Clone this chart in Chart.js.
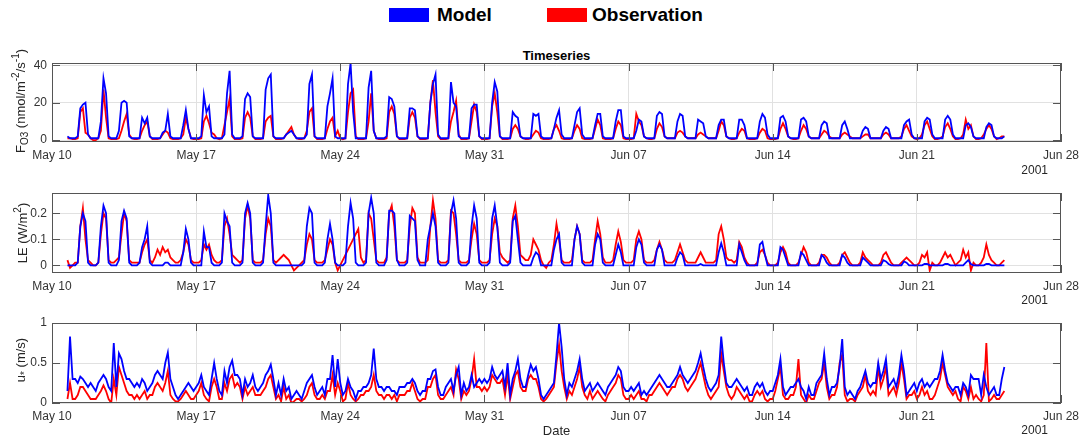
<!DOCTYPE html>
<html>
<head>
<meta charset="utf-8">
<title>Timeseries</title>
<script src="https://cdn.jsdelivr.net/npm/chart.js@4.4.1/dist/chart.umd.min.js"></script>
<style>
  body { margin: 0; background: #fff; }
  #fig { position: relative; width: 1085px; height: 440px; overflow: hidden;
         font-family: "Liberation Sans", Arial, sans-serif; color: #262626; }
  #fig canvas { position: absolute; left: 0; }
  .txt { position: absolute; white-space: nowrap; line-height: 1; }
  .ylab { position: absolute; white-space: nowrap; font-size: 13px; line-height: 1;
          transform: translate(-50%, -50%) rotate(-90deg); }
  .ylab sub, .ylab sup { font-size: 10px; line-height: 0; }
  .swatch { position: absolute; top: 8px; width: 40px; height: 14px; }
  .leg { position: absolute; top: 5px; font-size: 19px; font-weight: bold; color: #000; line-height: 1; }
</style>
</head>
<body>
<div id="fig">
  <div class="swatch" style="left:389px;background:#0000ff"></div>
  <div class="leg" style="left:437px">Model</div>
  <div class="swatch" style="left:547px;background:#ff0000"></div>
  <div class="leg" style="left:592px">Observation</div>

  <div class="txt" style="left:0;width:1113px;text-align:center;top:49px;font-size:13px;font-weight:bold;color:#000">Timeseries</div>

  <canvas id="fo3" width="1085" height="130" style="top:40px"></canvas>
  <canvas id="le" width="1085" height="131" style="top:170px"></canvas>
  <canvas id="ustar" width="1085" height="131" style="top:300px"></canvas>

  <div class="ylab" style="left:20px;top:101px">F<sub>O3</sub> (nmol/m<sup>-2</sup>/s<sup>-1</sup>)</div>
  <div class="ylab" style="left:22px;top:233px">LE (W/m<sup>2</sup>)</div>
  <div class="ylab" style="left:20px;top:360px">u<sub>*</sub> (m/s)</div>

  <div class="txt" style="right:37px;top:164px;font-size:12px">2001</div>
  <div class="txt" style="right:37px;top:294px;font-size:12px">2001</div>
  <div class="txt" style="right:37px;top:424px;font-size:12px">2001</div>
  <div class="txt" style="left:0;width:1113px;text-align:center;top:424px;font-size:13px">Date</div>
</div>

<script>
// x axis: days since May 10 2001, one tick per week
const xTickDays = [0, 7, 14, 21, 28, 35, 42, 49];
const xTickLabels = ['May 10', 'May 17', 'May 24', 'May 31', 'Jun 07', 'Jun 14', 'Jun 21', 'Jun 28'];
const stepsPerDay = 8; // 3-hourly values, each row is one day starting at 00:00

const fo3Ticks = [0, 20, 40];
const leTicks = [0, 0.1, 0.2];
const ustarTicks = [0, 0.5, 1];

// ozone flux, nmol/m2/s
const fo3Model = [
  [null,null,null,null,null,null,2,1],
  [1,1,2,17,19,20,3,1],
  [1,1,1,10,33,25,2,1],
  [1,1,5,20,21,20,2,1],
  [1,1,1,12,9,12,2,1],
  [1,1,1,4,5,14,2,1],
  [1,1,1,8,16,6,1,1],
  [1,1,2,24,15,18,2,1],
  [1,1,1,3,25,37,3,1],
  [1,1,2,22,25,23,2,1],
  [1,1,1,27,33,35,2,1],
  [1,1,1,3,4,5,3,1],
  [1,1,1,3,30,35,2,1],
  [1,1,1,18,25,33,2,1],
  [1,1,1,30,41,15,1,1],
  [1,1,1,28,37,5,1,1],
  [1,1,2,23,22,18,2,1],
  [1,1,1,17,17,16,2,1],
  [1,1,1,20,30,35,3,1],
  [1,1,1,31,20,18,2,1],
  [1,1,1,17,19,19,2,1],
  [1,1,1,20,31,26,2,1],
  [1,1,1,15,13,12,2,1],
  [1,1,1,14,13,14,2,1],
  [1,1,1,6,12,16,3,1],
  [1,1,1,8,15,17,3,1],
  [1,1,1,8,14,14,2,1],
  [1,1,1,10,16,16,2,1],
  [1,1,1,5,11,10,2,1],
  [1,1,1,13,15,14,2,1],
  [1,1,1,10,14,13,2,1],
  [1,1,1,11,10,9,2,1],
  [1,1,1,8,11,11,2,1],
  [1,1,1,11,11,8,1,1],
  [1,1,1,10,14,12,3,1],
  [1,1,1,12,13,10,2,1],
  [1,1,1,11,12,10,2,1],
  [1,1,1,8,10,9,1,1],
  [1,1,1,8,10,6,1,1],
  [1,1,1,5,7,6,1,1],
  [1,1,1,5,7,6,1,1],
  [1,1,1,8,10,11,3,1],
  [1,1,1,10,12,11,3,1],
  [1,1,1,11,13,11,3,1],
  [1,1,1,8,9,7,2,1],
  [1,1,1,7,9,8,2,1],
  [1,1,2,null,null,null,null,null]
];
const fo3Obs = [
  [null,null,null,null,null,null,1,1],
  [0.5,0.5,1,15,17,4,3,1],
  [0,0,1,5,27,12,1,0.5],
  [0.5,0.5,1,5,10,14,3,1],
  [0.5,0.5,1,5,8,10,2,0.5],
  [0.5,0.5,1,3,5,4,1,0.5],
  [0.5,0.5,1,3,12,6,1,0.5],
  [0.5,0.5,1,10,13,9,4,3],
  [1,0.5,1,8,15,22,2,0.5],
  [0.5,0.5,1,12,15,12,2,0.5],
  [0.5,0.5,1,10,12,13,2,0.5],
  [0.5,0.5,1,3,5,7,3,1],
  [0.5,0.5,1,5,15,17,2,0.5],
  [0.5,0.5,1,6,10,12,2,5],
  [1,0.5,1,15,25,27,2,0.5],
  [0.5,0.5,1,10,25,5,1,0.5],
  [0.5,0.5,1,15,18,14,2,0.5],
  [0.5,0.5,1,12,15,12,2,0.5],
  [0.5,0.5,1,20,32,15,2,0.5],
  [0.5,0.5,1,10,15,21,3,0.5],
  [0.5,0.5,1,10,19,15,2,0.5],
  [0.5,0.5,1,18,25,15,2,0.5],
  [0.5,0.5,1,6,8,6,2,1],
  [0.5,0.5,1,3,5,4,1,0.5],
  [0.5,0.5,1,6,8,5,1,0.5],
  [0.5,0.5,1,5,8,6,1,0.5],
  [0.5,0.5,1,6,11,8,1,0.5],
  [0.5,0.5,1,6,10,8,1,0.5],
  [0.5,0.5,1,14,10,8,2,1],
  [0.5,0.5,1,6,9,7,2,1],
  [1,1,1,4,5,4,2,1],
  [1,1,1,3,4,3,2,1],
  [1,1,1,5,10,8,2,1],
  [0.5,0.5,1,4,6,5,1,0.5],
  [0.5,0.5,1,4,6,5,1,0.5],
  [0.5,0.5,1,6,9,6,2,1],
  [0.5,0.5,1,5,8,6,2,1],
  [1,1,1,3,5,4,2,1],
  [1,1,1,3,4,3,2,1],
  [1,1,1,2,3,3,1,1],
  [1,1,1,3,4,3,1,1],
  [1,1,2,6,8,5,2,1],
  [0.5,1,3,8,10,6,2,0.5],
  [0.5,1,2,7,9,6,2,0.5],
  [0.5,1,3,11,6,8,2,0.5],
  [0.5,1,3,6,8,6,2,0.5],
  [1,2,2,null,null,null,null,null]
];

// latent heat flux, W/m2
const leModel = [
  [null,null,null,null,null,null,0,0],
  [0,0,0.01,0.15,0.2,0.17,0.01,0],
  [0,0,0.01,0.15,0.23,0.2,0.01,0],
  [0,0,0.02,0.17,0.21,0.18,0.01,0],
  [0,0,0.01,0.07,0.1,0.15,0.01,0],
  [0,0,0,0,0.01,0.01,0,0],
  [0,0,0,0.05,0.14,0.1,0.01,0],
  [0,0,0,0.13,0.07,0.07,0.01,0],
  [0,0,0.01,0.2,0.17,0.15,0.01,0],
  [0,0,0.01,0.2,0.24,0.2,0.01,0],
  [0,0,0.01,0.15,0.27,0.2,0.01,0],
  [0,0,0,0,0,0,0,0],
  [0,0,0.01,0.15,0.22,0.2,0.01,0],
  [0,0,0.01,0.1,0.16,0.1,0.01,0],
  [0,0,0.01,0.15,0.24,0.18,0.01,0],
  [0,0,0.01,0.2,0.26,0.2,0.01,0],
  [0,0,0.02,0.21,0.21,0.2,0.02,0],
  [0,0,0.01,0.19,0.18,0.17,0.02,0],
  [0,0,0.1,0.15,0.2,0.15,0.01,0],
  [0,0,0.01,0.2,0.25,0.18,0.01,0],
  [0,0,0.01,0.15,0.23,0.18,0.01,0],
  [0,0,0.01,0.18,0.23,0.15,0.01,0],
  [0,0,0.01,0.17,0.19,0.1,0.01,0],
  [0,0,0,0.03,0.05,0.04,0,0],
  [0,0,0,0.06,0.1,0.12,0.01,0],
  [0,0,0,0.1,0.15,0.12,0.01,0],
  [0,0,0,0.08,0.12,0.1,0.01,0],
  [0,0,0,0.04,0.08,0.05,0,0],
  [0,0,0,0.07,0.1,0.08,0.01,0],
  [0,0,0,0.06,0.08,0.06,0,0],
  [0,0,0,0.03,0.05,0.04,0,0],
  [0,0,0,0,0.005,0,0,0],
  [0,0,0,0.05,0.085,0.05,0,0],
  [0,0,0,0.08,0.05,0.02,0,0],
  [0,0,0,0.08,0.09,0.04,0,0],
  [0,0,0,0.07,0.06,0.03,0,0],
  [0,0,0,0.05,0.04,0.02,0,0],
  [0,0,0,0.04,0.03,0.01,0,0],
  [0,0,0,0.04,0.03,0.01,0,0],
  [0,0,0,0.03,0.02,0.01,0,0],
  [0,0,0,0.02,0.015,0.005,0,0],
  [0,0,0,0.015,0.01,0,0,0],
  [0,0,0,0.005,0.005,0,0,0],
  [0,0,0,0.005,0.005,0,0,0],
  [0,0,0,0.01,0.02,0.005,0,0],
  [0,0,0,0.005,0.005,0,0,0],
  [0,0,0,null,null,null,null,null]
];
const leObs = [
  [null,null,null,null,null,null,0.02,-0.01],
  [0,0.01,0.01,0.15,0.22,0.1,0.02,0.01],
  [0,0,0.01,0.12,0.2,0.18,0.02,0.01],
  [0.01,0.02,0.03,0.12,0.2,0.17,0.02,0.01],
  [0.01,0.01,0.01,0.05,0.08,0.1,0.02,0.01],
  [0.03,0.06,0.04,0.07,0.05,0.06,0.03,0.02],
  [0.01,0.01,0.02,0.05,0.1,0.08,0.02,0.01],
  [0.01,0.01,0.02,0.08,0.06,0.08,0.04,0.02],
  [0.01,0.01,0.02,0.15,0.18,0.12,0.04,0.03],
  [0.02,0.01,0.02,0.18,0.23,0.18,0.02,0.01],
  [0.01,0.01,0.02,0.12,0.18,0.15,0.02,0.01],
  [0.02,0.03,0.04,0.03,0.02,0,-0.02,-0.01],
  [0,0.01,0.02,0.08,0.12,0.1,0.02,0.01],
  [0.01,0.01,0.02,0.06,0.1,0.08,0.01,-0.02],
  [null,null,null,null,null,null,null,0.14],
  [0.03,0.01,0.02,0.2,0.18,0.1,0.02,0.01],
  [0.01,0.01,0.03,0.2,0.23,0.15,0.02,0.01],
  [0.01,0.01,0.02,0.15,0.22,0.2,0.03,0.01],
  [0.01,0.01,0.02,0.15,0.25,0.18,0.02,0.01],
  [0.01,0.01,0.02,0.21,0.2,0.12,0.02,0.01],
  [0.01,0.01,0.02,0.1,0.16,0.12,0.02,0.01],
  [0.01,0.01,0.02,0.12,0.18,0.15,0.05,0.03],
  [0.02,0.01,0.02,0.18,0.23,0.15,0.04,0.03],
  [0.02,0.02,0.04,0.1,0.08,0.06,0.02,0],
  [-0.01,0.01,0.02,0.08,0.16,0.1,0.02,0.01],
  [0.01,0.01,0.02,0.1,0.15,0.12,0.02,0.01],
  [0.01,0.01,0.02,0.1,0.17,0.12,0.03,0.01],
  [0.01,0.01,0.02,0.08,0.13,0.09,0.02,0.01],
  [0.01,0.01,0.02,0.1,0.13,0.1,0.02,0.01],
  [0.01,0.01,0.02,0.06,0.09,0.06,0.02,0.01],
  [0.01,0.01,0.02,0.05,0.08,0.05,0.02,0.01],
  [0.01,0.01,0.01,0.03,0.05,0.03,0.01,0.01],
  [0.01,0.01,0.02,0.12,0.15,0.1,0.03,0.02],
  [0.02,0.01,0.02,0.09,0.07,0.03,0.01,0],
  [0,0,0.01,0.05,0.06,0.04,0.01,0],
  [0,0,0.01,0.05,0.07,0.05,0.01,0],
  [0,0,0.01,0.04,0.07,0.05,0.01,0],
  [0,0,0.01,0.04,0.04,0.03,0.01,0],
  [0,0,0.01,0.04,0.05,0.03,0.01,0],
  [0,0,0.01,0.05,0.03,0.02,0.01,0],
  [0,0,0.01,0.04,0.05,0.03,0.01,0],
  [0,0,0.01,0.02,0.03,0.02,0.01,0],
  [0,0.01,0.04,0.03,0.05,-0.02,0.01,0],
  [0,0.01,0.03,0.05,0.03,0.04,0.02,0],
  [0.01,0.02,0.06,0.03,0.05,-0.02,0.01,0],
  [0,0.01,0.03,0.08,0.04,0.02,0.01,0],
  [0,0.01,0.02,null,null,null,null,null]
];

// friction velocity, m/s
const ustarModel = [
  [null,null,null,null,null,null,0.15,0.83],
  [0.3,0.3,0.25,0.33,0.3,0.25,0.2,0.25],
  [0.2,0.15,0.25,0.3,0.35,0.3,0.2,0.15],
  [0.75,0.2,0.62,0.55,0.4,0.3,0.3,0.25],
  [0.2,0.25,0.2,0.3,0.25,0.15,0.2,0.25],
  [0.35,0.4,0.35,0.3,0.5,0.63,0.3,0.2],
  [0.1,0.05,0.1,0.15,0.2,0.25,0.2,0.15],
  [0.2,0.25,0.35,0.2,0.15,0.1,0.3,0.5],
  [0.3,0.15,0.1,0.4,0.25,0.45,0.53,0.35],
  [0.35,0.3,0.1,0.3,0.2,0.25,0.35,0.2],
  [0.15,0.2,0.25,0.35,0.4,0.48,0.3,0.1],
  [0.25,0.1,0.3,0.15,0.2,0.05,0.1,0.15],
  [0.1,0.05,0.15,0.25,0.3,0.35,0.2,0.1],
  [0.15,0.2,0.1,0.3,0.3,0.6,0.2,0.55],
  [0.25,0.1,0.15,0.3,0.2,0.15,0.05,0.15],
  [0.15,0.2,0.2,0.25,0.35,0.68,0.3,0.2],
  [0.2,0.15,0.2,0.2,0.15,0.15,0.1,0.2],
  [0.2,0.2,0.25,0.25,0.3,0.25,0.15,0.1],
  [0.15,0.15,0.3,0.3,0.4,0.42,0.2,0.1],
  [0.1,0.2,0.25,0.3,0.15,0.35,0.45,0.1],
  [0.25,0.15,0.2,0.35,0.2,0.25,0.3,0.25],
  [0.3,0.25,0.3,0.45,0.35,0.3,0.35,0.4],
  [0.2,0.5,0.1,0.3,0.4,0.55,0.3,0.2],
  [0.2,0.35,0.48,0.4,0.45,0.3,0.1,0.05],
  [0.1,0.15,0.2,0.25,0.6,1,0.7,0.3],
  [0.1,0.25,0.2,0.3,0.4,0.55,0.3,0.15],
  [0.2,0.25,0.15,0.2,0.25,0.2,0.15,0.1],
  [0.2,0.25,0.3,0.35,0.45,0.4,0.2,0.15],
  [0.15,0.2,0.15,0.2,0.25,0.1,0.15,0.1],
  [0.15,0.2,0.25,0.3,0.35,0.3,0.25,0.2],
  [0.2,0.25,0.3,0.35,0.45,0.35,0.3,0.25],
  [0.3,0.35,0.4,0.5,0.62,0.45,0.3,0.2],
  [0.15,0.2,0.25,0.35,0.83,0.5,0.25,0.2],
  [0.2,0.25,0.3,0.25,0.2,0.15,0.2,0.1],
  [0.1,0.2,0.25,0.2,0.25,0.15,0.1,0.15],
  [0.15,0.25,0.35,0.55,0.2,0.1,0.15,0.2],
  [0.2,0.25,0.3,0.2,0.15,0.05,0.2,0.1],
  [0.1,0.25,0.3,0.35,0.62,0.3,0.1,0.2],
  [0.2,0.25,0.45,0.8,0.2,0.1,0.15,0.1],
  [0.05,0.15,0.2,0.3,0.4,0.25,0.2,0.25],
  [0.25,0.5,0.3,0.4,0.55,0.2,0.25,0.3],
  [0.2,0.35,0.6,0.4,0.1,0.15,0.2,0.25],
  [0.15,0.25,0.3,0.2,0.25,0.2,0.25,0.3],
  [0.3,0.4,0.6,0.4,0.25,0.2,0.15,0.2],
  [0.2,0.1,0.25,0.2,0.1,0.35,0.3,0.3],
  [0.3,0.1,0.35,0.2,0.1,0.15,0.2,0.1],
  [0.1,0.3,0.45,null,null,null,null,null]
];
const ustarObs = [
  [null,null,null,null,null,null,0.05,0.25],
  [0.05,0.05,0.1,0.2,0.2,0.15,0.1,0.05],
  [0.05,0.05,0.1,0.15,0.22,0.15,0.05,0],
  [0.3,0.1,0.45,0.35,0.25,0.15,0.1,0.1],
  [0.05,0.1,0.05,0.1,0.15,0.05,0.1,0.1],
  [0.2,0.25,0.2,0.15,0.25,0.4,0.1,0.05],
  [0.02,0.02,0.05,0.1,0.15,0.1,0.05,0.05],
  [0.1,0.15,0.25,0.1,0.05,0.02,0.2,0.3],
  [0.2,0.05,0.05,0.25,0.15,0.3,0.35,0.2],
  [0.25,0.2,0.05,0.2,0.1,0.15,0.2,0.1],
  [0.1,0.1,0.15,0.2,0.3,0.35,0.2,0.05],
  [0.1,0.02,0.2,0.05,0.1,0,0.02,0.05],
  [0.05,0.02,0.05,0.1,0.2,0.25,0.1,0.05],
  [0.05,0.1,0.05,0.15,0.15,0.35,0.1,0.25],
  [0.15,0.02,0.05,0.25,0.1,0.05,0.02,0.05],
  [0.1,0.1,0.15,0.15,0.2,0.35,0.15,0.1],
  [0.1,0.05,0.1,0.1,0.05,0.1,0.02,0.1],
  [0.1,0.1,0.15,0.15,0.25,0.15,0.05,0.02],
  [0.05,0.05,0.2,0.2,0.3,0.35,0.1,0.05],
  [0.05,0.1,0.15,0.2,0.1,0.42,0.3,0.05],
  [0.15,0.1,0.15,0.3,0.55,0.2,0.2,0.15],
  [0.2,0.15,0.2,0.35,0.3,0.25,0.25,0.3],
  [0.1,0.35,0.05,0.2,0.35,0.4,0.2,0.15],
  [0.15,0.3,0.35,0.3,0.3,0.2,0.05,0.02],
  [0.05,0.1,0.15,0.2,0.5,0.73,0.4,0.2],
  [0.05,0.15,0.1,0.2,0.3,0.45,0.2,0.1],
  [0.05,0.15,0.05,0.1,0.15,0.1,0.05,0.02],
  [0.1,0.15,0.2,0.25,0.35,0.3,0.1,0.05],
  [0.05,0.1,0.05,0.1,0.15,0.05,0.05,0.02],
  [0.1,0.1,0.15,0.2,0.25,0.2,0.15,0.1],
  [0.15,0.2,0.2,0.3,0.35,0.3,0.2,0.15],
  [0.2,0.25,0.3,0.4,0.5,0.35,0.2,0.1],
  [0.05,0.1,0.15,0.2,0.62,0.4,0.2,0.1],
  [0.05,0.1,0.2,0.15,0.1,0.05,0.1,0.02],
  [0.02,0.1,0.15,0.1,0.15,0.05,0.02,0.05],
  [0.05,0.15,0.3,0.45,0.1,0.05,0.05,0.1],
  [0.1,0.2,0.55,0.1,0.05,0,0.1,0.05],
  [0.05,0.15,0.25,0.3,0.5,0.2,0.05,0.1],
  [0.1,0.2,0.5,0.6,0.1,0.02,0.05,0.05],
  [0.02,0.1,0.15,0.2,0.35,0.15,0.1,0.15],
  [0.1,0.45,0.2,0.3,0.45,0.1,0.15,0.2],
  [0.1,0.25,0.5,0.3,0.05,0.1,0.1,0.15],
  [0.05,0.1,0.2,0.1,0.15,0.05,0.05,0.1],
  [0.2,0.3,0.5,0.35,0.2,0.15,0.1,0.15],
  [0.05,0.02,0.2,0.15,0.05,0.2,0.05,0.1],
  [0.05,0.02,0.1,0.75,0.02,0.05,0.1,0.05],
  [0.05,0.1,0.15,null,null,null,null,null]
];

const FONT = '"Liberation Sans", Arial, sans-serif';
const TICK_COLOR = '#333333';
const GRID_COLOR = '#e1e1e1';

function toPoints(rows) {
  return rows.flat().map((v, i) => ({ x: i / stepsPerDay, y: v }));
}

// box around the plot area with short inward tick marks on all four sides
const frame = {
  id: 'frame',
  afterDraw(chart) {
    const { ctx, chartArea: a, scales } = chart;
    const len = 8;
    ctx.save();
    ctx.strokeStyle = '#555555';
    ctx.lineWidth = 1;
    ctx.beginPath();
    scales.x.ticks.forEach(t => {
      const px = Math.round(scales.x.getPixelForValue(t.value)) + 0.5;
      ctx.moveTo(px, a.top); ctx.lineTo(px, a.top + len);
      ctx.moveTo(px, a.bottom); ctx.lineTo(px, a.bottom - len);
    });
    scales.y.ticks.forEach(t => {
      const py = Math.round(scales.y.getPixelForValue(t.value)) + 0.5;
      ctx.moveTo(a.left, py); ctx.lineTo(a.left + len, py);
      ctx.moveTo(a.right, py); ctx.lineTo(a.right - len, py);
    });
    ctx.stroke();
    ctx.strokeRect(Math.round(a.left) + 0.5, Math.round(a.top) + 0.5,
                   Math.round(a.width) - 1, Math.round(a.height) - 1);
    ctx.restore();
  }
};

function drawPanel(id, model, obs, yMin, yMax, yTicks) {
  new Chart(document.getElementById(id), {
    type: 'line',
    data: {
      datasets: [
        { label: 'Model', data: toPoints(model), borderColor: '#0000ff', spanGaps: true },
        { label: 'Observation', data: toPoints(obs), borderColor: '#ff0000', spanGaps: true }
      ]
    },
    options: {
      responsive: false,
      animation: false,
      events: [],
      layout: { padding: { top: 23, right: 24, bottom: 0, left: 0 } },
      elements: {
        point: { radius: 0 },
        line: { borderWidth: 1.8, tension: 0, fill: false }
      },
      plugins: { legend: { display: false }, tooltip: { enabled: false } },
      scales: {
        x: {
          type: 'linear',
          min: 0,
          max: 49,
          afterBuildTicks: s => { s.ticks = xTickDays.map(v => ({ value: v })); },
          afterFit: s => { s.height = 28; },
          grid: { color: GRID_COLOR, drawTicks: false },
          border: { display: false },
          ticks: {
            padding: 6, maxRotation: 0, autoSkip: false,
            color: TICK_COLOR, font: { family: FONT, size: 12 },
            callback: (v, i) => xTickLabels[i]
          }
        },
        y: {
          min: yMin,
          max: yMax,
          afterBuildTicks: s => { s.ticks = yTicks.map(v => ({ value: v })); },
          afterFit: s => { s.width = 52; },
          grid: { color: GRID_COLOR, drawTicks: false },
          border: { display: false },
          ticks: {
            padding: 5, color: TICK_COLOR, font: { family: FONT, size: 12 },
            callback: v => String(v)
          }
        }
      }
    },
    plugins: [frame]
  });
}

drawPanel('fo3', fo3Model, fo3Obs, -1, 41.2, fo3Ticks);
drawPanel('le', leModel, leObs, -0.0296, 0.278, leTicks);
drawPanel('ustar', ustarModel, ustarObs, 0, 1, ustarTicks);
</script>
</body>
</html>
